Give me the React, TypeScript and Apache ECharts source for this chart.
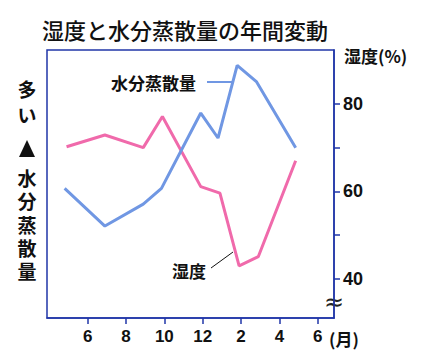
import React, { useEffect, useRef } from "react";
import * as echarts from "echarts";

// month position: 6 = June, 12 = December, 13 = next January ... 18 = next June
const humidityMonths = [4.9, 6.9, 8.9, 9.9, 11.9, 12.9, 13.9, 14.9, 16.85];
const humidityValues = [70.2, 72.9, 70, 77.1, 61.1, 59.6, 43, 45.1, 67];
const transpMonths = [4.8, 6.9, 8.9, 9.85, 11.9, 12.8, 13.8, 14.8, 16.85];
const transpValues = [60.7, 52.1, 57.1, 60.7, 77.9, 72.2, 88.8, 85.1, 70];
const xTickValues = [6, 8, 10, 12, 14, 16, 18];
const yTickValues = [40, 50, 60, 70, 80];
const yLabelValues = [40, 60, 80];
const leftTop = ["多", "い"];
const leftBottom = ["水", "分", "蒸", "散", "量"];

const BLUE = "#7097e3";
const PINK = "#f06aab";
const FRAME = "#2036a8";

export default function App() {
  const ref = useRef<HTMLDivElement>(null);
  useEffect(() => {
    if (!ref.current) return;
    const chart = echarts.init(ref.current, undefined, { renderer: "svg" });
    const vStyle = {
      fontSize: 19,
      fontWeight: "bold",
      fontFamily: "Noto Sans CJK JP",
      fill: "#111",
      textAlign: "center",
    };
    chart.setOption({
      animation: false,
      grid: {
        left: 47,
        right: 96,
        top: 50,
        bottom: 44,
        show: true,
        borderColor: FRAME,
        borderWidth: 1.5,
        backgroundColor: "transparent",
      },
      xAxis: {
        type: "value",
        min: 3.88,
        max: 18.85,
        splitLine: { show: false },
        axisLine: { show: true, lineStyle: { color: FRAME, width: 1.5 } },
        axisTick: {
          show: true,
          inside: false,
          length: 6,
          customValues: xTickValues,
          lineStyle: { color: FRAME, width: 1.5 },
        },
        axisLabel: {
          customValues: xTickValues,
          margin: 10,
          fontSize: 17,
          fontWeight: "bold",
          fontFamily: "Liberation Sans",
          color: "#111",
          formatter: (v: number) => String(v > 12 ? v - 12 : v),
        },
      },
      yAxis: [
        {
          type: "value",
          position: "right",
          min: 31.1,
          max: 92.3,
          splitLine: { show: false },
          axisLine: { show: true, lineStyle: { color: FRAME, width: 1.5 } },
          axisTick: {
            show: true,
            inside: false,
            length: 6,
            customValues: yTickValues,
            lineStyle: { color: FRAME, width: 1.5 },
          },
          axisLabel: {
            customValues: yLabelValues,
            margin: 9,
            fontSize: 18,
            fontWeight: "bold",
            fontFamily: "Liberation Sans",
            color: "#111",
          },
        },
        {
          type: "value",
          position: "left",
          min: 31.1,
          max: 92.3,
          show: false,
        },
      ],
      series: [
        {
          type: "line",
          name: "湿度",
          yAxisIndex: 0,
          data: humidityMonths.map((m, i) => [m, humidityValues[i]]),
          showSymbol: false,
          lineStyle: { color: PINK, width: 3 },
          itemStyle: { color: PINK },
        },
        {
          type: "line",
          name: "水分蒸散量",
          yAxisIndex: 1,
          data: transpMonths.map((m, i) => [m, transpValues[i]]),
          showSymbol: false,
          lineStyle: { color: BLUE, width: 3 },
          itemStyle: { color: BLUE },
        },
      ],
      graphic: [
        {
          type: "text",
          x: 42,
          y: 29,
          style: {
            text: "湿度と水分蒸散量の年間変動",
            fontSize: 22,
            fontFamily: "Noto Sans CJK JP",
            fontWeight: 500,
            fill: "#111",
            textVerticalAlign: "middle",
          },
        },
        {
          type: "text",
          x: 344,
          y: 55,
          style: {
            text: "湿度(%)",
            fontSize: 17,
            fontFamily: "Noto Sans CJK JP",
            fontWeight: "bold",
            fill: "#111",
            textVerticalAlign: "middle",
          },
        },
        {
          type: "text",
          x: 329,
          y: 338,
          style: {
            text: "(月)",
            fontSize: 17,
            fontFamily: "Noto Sans CJK JP",
            fontWeight: "bold",
            fill: "#111",
            textVerticalAlign: "middle",
          },
        },
        {
          type: "text",
          x: 27,
          y: 75,
          style: { ...vStyle, text: leftTop.join("\n"), lineHeight: 26 },
        },
        {
          type: "text",
          x: 27,
          y: 166,
          style: { ...vStyle, text: leftBottom.join("\n"), lineHeight: 23.3 },
        },
        {
          type: "polygon",
          shape: { points: [[27, 140], [19, 157], [35, 157]] },
          style: { fill: "#111" },
        },
        {
          type: "text",
          x: 111,
          y: 82,
          style: {
            text: "水分蒸散量",
            fontSize: 17,
            fontFamily: "Noto Sans CJK JP",
            fontWeight: "bold",
            fill: "#111",
            textVerticalAlign: "middle",
          },
        },
        {
          type: "line",
          shape: { x1: 207, y1: 82, x2: 232, y2: 82 },
          style: { stroke: BLUE, lineWidth: 2 },
        },
        {
          type: "text",
          x: 172,
          y: 270,
          style: {
            text: "湿度",
            fontSize: 17,
            fontFamily: "Noto Sans CJK JP",
            fontWeight: "bold",
            fill: "#111",
            textVerticalAlign: "middle",
          },
        },
        {
          type: "line",
          shape: { x1: 211, y1: 268, x2: 233, y2: 252 },
          style: { stroke: "#111", lineWidth: 1 },
        },
        {
          type: "text",
          x: 334,
          y: 302,
          style: {
            text: "≈",
            fontSize: 24,
            fontFamily: "DejaVu Sans",
            fill: "#222",
            textAlign: "center",
            textVerticalAlign: "middle",
          },
        },
      ],
    });
    return () => chart.dispose();
  }, []);
  return <div ref={ref} style={{ width: 430, height: 362, position: "absolute", left: 0, top: 0 }} />;
}
